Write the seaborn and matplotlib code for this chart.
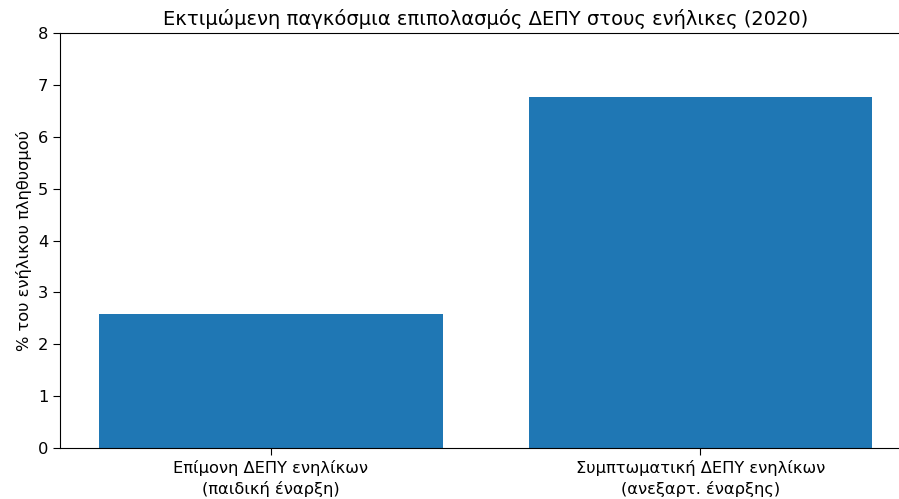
import matplotlib
matplotlib.use("Agg")
import matplotlib.pyplot as plt
import seaborn as sns
import pandas as pd

categories = ["Επίμονη ΔΕΠΥ ενηλίκων\n(παιδική έναρξη)",
              "Συμπτωματική ΔΕΠΥ ενηλίκων\n(ανεξαρτ. έναρξης)"]
prevalence = [2.58, 6.76]

df = pd.DataFrame({"category": categories, "prevalence": prevalence})

plt.rcParams["font.family"] = ["DejaVu Sans"]

fig, ax = plt.subplots(figsize=(8.99, 4.99), dpi=100)
sns.barplot(data=df, x="category", y="prevalence", color="#1f77b4",
            saturation=1, width=0.8, ax=ax)

ax.set_title("Εκτιμώμενη παγκόσμια επιπολασμός ΔΕΠΥ στους ενήλικες (2020)",
             fontsize=14, x=0.508)
ax.set_ylabel("% του ενήλικου πληθυσμού", fontsize=11.7, labelpad=4)
ax.set_xlabel("")
ax.set_ylim(0, 8)
ax.set_xlim(-0.49, 1.46)
ax.tick_params(labelsize=11.7, length=5)
for lbl in ax.get_xticklabels():
    lbl.set_linespacing(1.4)
ax.spines["right"].set_visible(False)

fig.subplots_adjust(left=0.067, right=0.999, top=0.934, bottom=0.102)
fig.savefig("out.png", dpi=100)
